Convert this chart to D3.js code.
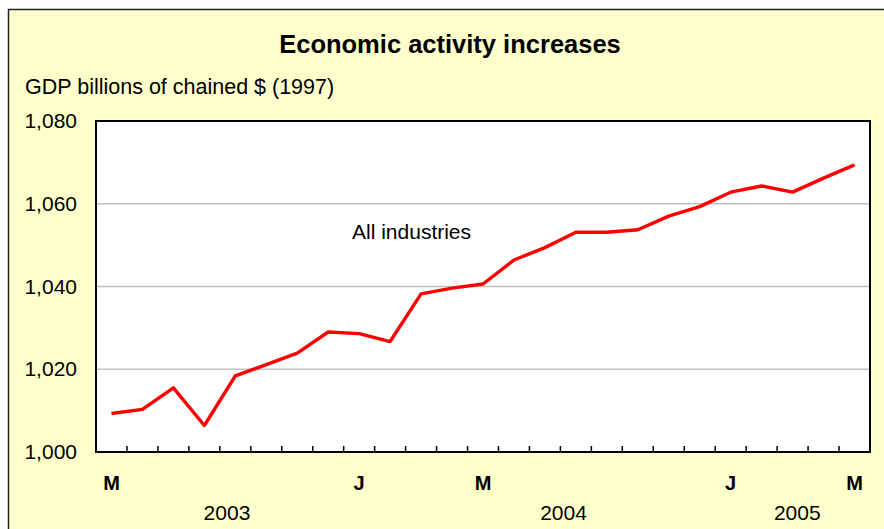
<!DOCTYPE html>
<html>
<head>
<meta charset="utf-8">
<script src="https://cdn.jsdelivr.net/npm/d3@7"></script>
<style>
  body { margin: 0; background: #fff; }
  text { font-family: "Liberation Sans", Arial, sans-serif; }
</style>
</head>
<body>
<div id="chart"></div>
<script>
// monthly GDP, May 2003 .. May 2005
var months = ["2003-05","2003-06","2003-07","2003-08","2003-09","2003-10","2003-11","2003-12",
  "2004-01","2004-02","2004-03","2004-04","2004-05","2004-06","2004-07","2004-08","2004-09",
  "2004-10","2004-11","2004-12","2005-01","2005-02","2005-03","2005-04","2005-05"];
var gdp = [1009.3, 1010.3, 1015.5, 1006.4, 1018.4, 1021.1, 1023.9, 1029.0,
  1028.6, 1026.7, 1038.2, 1039.6, 1040.6, 1046.4, 1049.4, 1053.1, 1053.1,
  1053.7, 1057.0, 1059.3, 1062.8, 1064.3, 1062.8, 1066.2, 1069.4];
var yTicks = [1000, 1020, 1040, 1060, 1080];
var monthLabels = [{m: "2003-05", t: "M"}, {m: "2004-01", t: "J"}, {m: "2004-05", t: "M"},
  {m: "2005-01", t: "J"}, {m: "2005-05", t: "M"}];
// year labels sit under these months (fraction = spot inside the month)
var years = [{m: "2003-09", f: 0.23, t: "2003"}, {m: "2004-08", f: 0.1, t: "2004"},
  {m: "2005-03", f: 0.65, t: "2005"}];

var svgWidth = 884, svgHeight = 529;
var margin = {top: 121, left: 96, right: 14, bottom: 77};
var width = svgWidth - margin.left - margin.right;
var height = svgHeight - margin.top - margin.bottom;

var svg = d3.select("#chart").append("svg")
  .attr("width", svgWidth)
  .attr("height", svgHeight);

// yellow panel
svg.append("rect")
  .attr("x", 8.5).attr("y", 9.5)
  .attr("width", 900).attr("height", 560)
  .attr("fill", "#ffffcc")
  .attr("stroke", "#222").attr("stroke-width", 1.5);

svg.append("text")
  .attr("x", 450).attr("y", 53)
  .attr("text-anchor", "middle")
  .attr("font-size", 25.5).attr("font-weight", "bold")
  .text("Economic activity increases");

svg.append("text")
  .attr("x", 25).attr("y", 94)
  .attr("font-size", 21.5)
  .text("GDP billions of chained $ (1997)");

var g = svg.append("g")
  .attr("transform", `translate(${margin.left}, ${margin.top})`);

g.append("rect")
  .attr("width", width).attr("height", height)
  .attr("fill", "#fff");

var xScale = d3.scaleBand()
  .domain(months)
  .range([0, width]);

var yScale = d3.scaleLinear()
  .domain([1000, 1080])
  .range([height, 0]);

// gridlines
g.selectAll(".grid")
  .data(yTicks.slice(1, -1))
  .enter().append("line")
  .attr("x1", 0).attr("x2", width)
  .attr("y1", d => yScale(d)).attr("y2", d => yScale(d))
  .attr("stroke", "#c0c0c0").attr("stroke-width", 1.5);

// y labels
g.selectAll(".ylab")
  .data(yTicks)
  .enter().append("text")
  .attr("x", -19)
  .attr("y", d => yScale(d) + 7)
  .attr("text-anchor", "end")
  .attr("font-size", 21)
  .text(d => d3.format(",")(d));

// ticks on bottom between months
g.selectAll(".tick")
  .data(months.slice(1))
  .enter().append("line")
  .attr("x1", d => xScale(d)).attr("x2", d => xScale(d))
  .attr("y1", height).attr("y2", height - 6)
  .attr("stroke", "#000").attr("stroke-width", 1.5);

// frame
g.append("rect")
  .attr("width", width).attr("height", height)
  .attr("fill", "none")
  .attr("stroke", "#000").attr("stroke-width", 2);

var line = d3.line()
  .x((d, i) => xScale(months[i]) + xScale.bandwidth() / 2)
  .y(d => yScale(d));

g.append("path")
  .datum(gdp)
  .attr("d", line)
  .attr("fill", "none")
  .attr("stroke", "#ff0000")
  .attr("stroke-width", 3.4)
  .attr("stroke-linejoin", "round");

g.append("text")
  .attr("x", 256).attr("y", 118)
  .attr("font-size", 21)
  .text("All industries");

// month letters
g.selectAll(".mlab")
  .data(monthLabels)
  .enter().append("text")
  .attr("x", d => xScale(d.m) + xScale.bandwidth() / 2)
  .attr("y", height + 38)
  .attr("text-anchor", "middle")
  .attr("font-size", 20).attr("font-weight", "bold")
  .text(d => d.t);

// years
g.selectAll(".yr")
  .data(years)
  .enter().append("text")
  .attr("x", d => xScale(d.m) + d.f * xScale.bandwidth())
  .attr("y", height + 68)
  .attr("text-anchor", "middle")
  .attr("font-size", 21)
  .text(d => d.t);
</script>
</body>
</html>
